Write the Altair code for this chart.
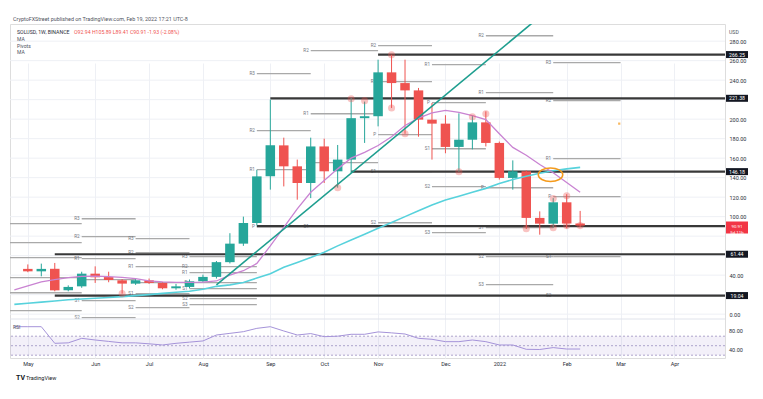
import altair as alt
import pandas as pd

# ---------------- data ----------------
BASE = pd.Timestamp("2021-05-03")  # first weekly bar

def wk(w):
    return (BASE + pd.Timedelta(days=7 * w)).strftime("%Y-%m-%dT%H:%M:%SZ")

opens = [46.4, 43.9, 46.5, 24.5, 28.5, 41.5, 38.0, 34.7, 31.3, 34.7, 32.0, 26.5, 27.9, 33.7, 38.2,
         53.3, 72.3, 93.5, 141.3, 173.1, 151.6, 134.5, 172.0, 146.5, 158.5, 201.0, 203.0, 248.0,
         237.0, 229.5, 199.5, 195.4, 171.5, 178.9, 196.7, 175.6, 139.7, 146.5, 98.7, 92.8, 114.7, 92.94]
highs = [51, 51.8, 52.5, 29.5, 43.5, 49, 43.5, 36, 36.5, 36.5, 33, 31, 35.5, 40.5, 54.5,
         83, 100, 148, 220, 181, 158.5, 181, 180, 173.5, 221.7, 218, 261, 266,
         261, 232, 216.6, 204, 206, 204, 208, 177, 157.7, 147.5, 105.4, 119, 123, 105.89]
lows = [43, 38.8, 23.4, 23.4, 27, 32, 32.7, 21, 30, 31, 25.5, 25, 26.5, 33, 36.5,
        52, 70, 91, 127.7, 131, 117.4, 119, 134.5, 129.7, 144.8, 175.6, 192.6, 211.5,
        185, 182, 158.5, 165, 146, 169, 172, 138, 127.7, 87.4, 81.5, 88.4, 88, 89.41]
closes = [43.9, 46.4, 24.4, 27.9, 41.5, 37.8, 35.0, 31.3, 34.7, 32.0, 26.5, 28.5, 33.7, 38.2, 53.3,
          72.3, 93.5, 141.3, 173.1, 151.6, 134.5, 172.0, 146.5, 158.5, 201.0, 203.0, 248.0, 237.0,
          229.5, 199.5, 195.4, 171.5, 178.9, 196.7, 175.6, 139.7, 146.5, 98.7, 92.8, 114.7, 92.94, 90.91]

# indicator values for weeks -1 .. 41
ma_fast = [25, 29, 33, 35.4, 37.5, 38.8, 39, 38.5, 37.8, 36.5, 34.2, 33, 32.6, 32.5, 32.8,
           34, 40, 44.5, 52, 70, 89, 108, 125, 137, 149, 160, 166, 173, 182, 193.5,
           201, 206.5, 209, 207, 203.5, 199.5, 185, 171, 163, 153.5, 145, 135, 125]
ma_slow = [10, 11.2, 12.3, 13.4, 14.7, 15.5, 16.3, 17, 18, 19, 20, 21.3, 22.5, 23.5, 25.5,
           28.5, 30, 32.5, 37, 41.5, 48, 53, 58, 63.5, 70, 76, 82, 88, 94, 100,
           106, 112, 117, 121, 125, 129, 134, 138, 141.5, 144.5, 147, 149, 150.5]
rsi_vals = [90, 90, 90, 55, 56, 65.5, 62, 59, 56, 56, 54, 51.5, 55, 57.5, 60,
            72.5, 76, 79.5, 86.5, 90, 81, 72.5, 75.5, 69, 70, 74, 74, 79, 77, 74.6,
            65.5, 63.5, 58.5, 58.5, 62, 58.5, 51.5, 51.5, 42.4, 42, 46, 43, 43]

# monthly pivot periods (week index start/end)
period_start = [-2, 4, 8, 12, 17, 21, 26, 30, 34, 39]
period_end = [4, 8, 12, 17, 21, 26, 30, 34, 39, 44]
piv_period = [0, 0, 0, 0, 0, 0,
              1, 1, 1, 1, 1, 1,
              2, 2, 2, 2, 2, 2,
              3, 3, 3, 3, 3, 3, 3,
              4, 4, 4, 4,
              5, 5, 5, 5,
              6, 6, 6, 6, 6,
              7, 7, 7, 7, 7,
              8, 8, 8, 8, 8, 8,
              9, 9, 9, 9, 9, 9]
piv_label = ["R3", "R2", "R1", "P", "S1", "S2",
             "R3", "R2", "R1", "P", "S1", "S2",
             "R3", "R2", "R1", "P", "S1", "S2",
             "R3", "R2", "R1", "P", "S1", "S2", "S3",
             "R3", "R2", "R1", "P",
             "R2", "R1", "P", "S1",
             "R2", "R1", "P", "S1", "S2",
             "R1", "P", "S1", "S2", "S3",
             "R2", "R1", "P", "S1", "S2", "S3",
             "R3", "R2", "R1", "P", "S1", "S2"]
piv_price = [92.8, 73.3, 58.0, 37.4, 22.0, 3.6,
             97.9, 79.5, 56.9, 35.4, 13.8, -3.6,
             77.4, 63.0, 48.7, 32.3, 21.0, 6.7,
             59.0, 48.7, 42.6, 32.3, 26.2, 15.9, 9.7,
             246.7, 188.2, 148.2, 89.7,
             270.3, 205.6, 155.4, 89.7,
             275.4, 238.5, 184.1, 146.2, 93.8,
             255.9, 216.9, 169.7, 130.8, 83.6,
             285.6, 227.2, 129.7, 88.7, 59.0, 30.3,
             258.0, 219.0, 159.5, 120.5, 59.0, 19.0]

level_price = [266.25, 221.38, 146.18, 90.23, 61.44, 19.04]
level_start = [26, 18, 24, 17, 2, 2]
level_text = ["266.25", "221.38", "146.18", "90.23", "61.44", "19.04"]

circle_week = [7, 23, 24, 25, 27, 27, 28, 32, 33, 34, 37, 39, 39, 40, 40, 41]
circle_price = [21, 129.7, 221, 219, 266, 211.5, 185, 146, 202.5, 205.6, 87.7, 118.5, 88.7, 121.5, 90.8, 90.8]

trend_week = [14, 38]
trend_price = [30, 305]

month_ticks = [(2021, 5, 3), (2021, 6, 7), (2021, 7, 5), (2021, 8, 2), (2021, 9, 6), (2021, 10, 4),
               (2021, 11, 1), (2021, 12, 6), (2022, 1, 3), (2022, 2, 7), (2022, 3, 7), (2022, 4, 4)]
price_ticks = [0, 40, 100, 120, 140, 160, 180, 200, 240, 260, 280]
grid_prices = list(range(0, 300, 20))
rsi_ticks = [80, 40]

# ---------------- frames ----------------
candles = pd.DataFrame({
    "date": [wk(i) for i in range(len(opens))],
    "open": opens, "high": highs, "low": lows, "close": closes,
})
candles["dir"] = ["up" if c >= o else "down" for o, c in zip(opens, closes)]

ind = pd.DataFrame({"date": [wk(i) for i in range(-1, len(ma_fast) - 1)],
                    "fast": ma_fast, "slow": ma_slow, "rsi": rsi_vals})
piv = pd.DataFrame({
    "start": [wk(period_start[p]) for p in piv_period],
    "end": [wk(period_end[p]) for p in piv_period],
    "label": [l if p > 0 else "" for l, p in zip(piv_label, piv_period)],
    "price": piv_price,
})
levels = pd.DataFrame({"start": [wk(w) for w in level_start], "end": wk(60),
                       "price": level_price, "text": level_text,
                       "off": [0, 0, 0, 13, 0, 0]})
circles = pd.DataFrame({"date": [wk(w) for w in circle_week], "price": circle_price})
trend = pd.DataFrame({"date": [wk(w) for w in trend_week], "price": trend_price})
ellipse = pd.DataFrame({"date": [wk(38.8)], "price": [143]})
odot = pd.DataFrame({"date": [wk(43.9)], "price": [195.4]})
last = pd.DataFrame({"price": [90.91], "t": ["90.91\n5d 11h"]})
grid_df = pd.DataFrame({"price": grid_prices})

FONT = "Roboto"
W, H = 715, 334
MAIN_BOTTOM = 295  # pixel row where the price pane ends and the RSI pane begins

xdom = [alt.DateTime(year=2021, month=4, date=26, hours=8, utc=True),
        alt.DateTime(year=2022, month=4, date=27, hours=16, utc=True)]
xscale = alt.Scale(type="utc", domain=xdom)
tick_vals = [alt.DateTime(year=y, month=m, date=d, utc=True) for y, m, d in month_ticks]
yscale = alt.Scale(domain=[-5, 297.6], nice=False, zero=False, range=[MAIN_BOTTOM, 0])
rscale = alt.Scale(domain=[24.1, 106.2], nice=False, zero=False, range=[H, MAIN_BOTTOM])
cscale = alt.Scale(domain=["up", "down"], range=["#26a69a", "#ef5350"])

x_axis = alt.Axis(values=tick_vals, grid=True, gridColor="#eef0f5", ticks=False, domain=False,
                  labelFontSize=5.5, labelColor="#2a2e39", labelPadding=3, labelFont=FONT,
                  title=None,
                  labelExpr="utcFormat(datum.value, '%m') == '01' ? utcFormat(datum.value, '%Y') : utcFormat(datum.value, '%b')")
y_main_axis = alt.Axis(orient="right", values=price_ticks, format=".2f", grid=False,
                       ticks=False, domain=False, labelFontSize=5.5,
                       labelColor="#2a2e39", labelPadding=4, title=None, labelFont=FONT)

def X(field):
    return alt.X(field, scale=xscale, axis=x_axis)

def Y(field):
    return alt.Y(field, scale=yscale, axis=None)

def R(field):
    return alt.Y(field, scale=rscale, axis=None)

grid = alt.Chart(grid_df).mark_rule(color="#eef0f5", strokeWidth=1).encode(
    y=alt.Y("price:Q", scale=yscale, axis=y_main_axis))
pivot_lines = alt.Chart(piv).mark_rule(color="#a9a9a9", strokeWidth=1.4, clip=True).encode(
    x=X("start:T"), x2="end:T", y=Y("price:Q"))
pivot_text = alt.Chart(piv).mark_text(align="right", dx=-2, fontSize=4.6, color="#74777f",
                                      font=FONT, clip=True).encode(
    x=X("start:T"), y=Y("price:Q"), text="label:N")
level_lines = alt.Chart(levels).mark_rule(color="#383838", strokeWidth=2.2, clip=True).encode(
    x=X("start:T"), x2="end:T", y=Y("price:Q"))
wicks = alt.Chart(candles).mark_rule(strokeWidth=1).encode(
    x=X("date:T"), y=Y("low:Q"), y2="high:Q",
    color=alt.Color("dir:N", scale=cscale, legend=None))
bodies = alt.Chart(candles).mark_bar(size=9.5).encode(
    x=X("date:T"), y=Y("open:Q"), y2="close:Q",
    color=alt.Color("dir:N", scale=cscale, legend=None))
slow_line = alt.Chart(ind).mark_line(color="#57d2dc", strokeWidth=1.6, clip=True).encode(
    x=X("date:T"), y=Y("slow:Q"))
fast_line = alt.Chart(ind).mark_line(color="#c983d2", strokeWidth=1.3, clip=True).encode(
    x=X("date:T"), y=Y("fast:Q"))
trend_line = alt.Chart(trend).mark_line(color="#1e9e8f", strokeWidth=1.6, clip=True).encode(
    x=X("date:T"), y=Y("price:Q"))
dots = alt.Chart(circles).mark_circle(size=50, color="#ef5350", opacity=0.35).encode(
    x=X("date:T"), y=Y("price:Q"))
ell = alt.Chart(ellipse).mark_point(
    shape="M -1 0 A 1 0.55 0 1 1 1 0 A 1 0.55 0 1 1 -1 0 Z", size=600, filled=False,
    color="#f59a1b", strokeWidth=1.5, opacity=1).encode(x=X("date:T"), y=Y("price:Q"))
od = alt.Chart(odot).mark_point(shape="square", size=5, filled=True, color="#f59a1b").encode(
    x=X("date:T"), y=Y("price:Q"))

boxes = alt.Chart(levels).mark_rule(strokeWidth=7, strokeCap="butt", color="#131722").encode(
    x=alt.value(716), x2=alt.value(738), y=Y("price:Q"), yOffset="off:Q")
box_text = alt.Chart(levels).mark_text(color="white", fontSize=5.2, font=FONT).encode(
    x=alt.value(727), y=Y("price:Q"), yOffset="off:Q", text="text:N")
red_box = alt.Chart(last).mark_rule(strokeWidth=12, strokeCap="butt", color="#f23645").encode(
    x=alt.value(716), x2=alt.value(738), y=Y("price:Q"), yOffset=alt.value(2))
red_text = alt.Chart(last).mark_text(color="white", fontSize=4.4, lineHeight=5.4,
                                     lineBreak="\n", baseline="middle", font=FONT).encode(
    x=alt.value(727), y=Y("price:Q"), yOffset=alt.value(2), text="t:N")

# ---------------- RSI pane ----------------
band_df = pd.DataFrame({"x0": [wk(-3)], "x1": [wk(60)], "lo": [30], "hi": [70]})
rsi_levels = pd.DataFrame({"v": [70, 50, 30]})
pane_sep = pd.DataFrame({"v": [106.2]})
rsi_tick_df = pd.DataFrame({"v": rsi_ticks, "t": [f"{v:.2f}" for v in rsi_ticks]})

band = alt.Chart(band_df).mark_rect(color="#7e57c2", opacity=0.09, clip=True).encode(
    x=X("x0:T"), x2="x1:T", y=R("lo:Q"), y2="hi:Q")
rsi_rules = alt.Chart(rsi_levels).mark_rule(color="#9a8fbf", strokeWidth=0.8,
                                            strokeDash=[2, 2]).encode(y=R("v:Q"))
sep = alt.Chart(pane_sep).mark_rule(color="#e0e3eb", strokeWidth=1).encode(y=R("v:Q"))
rsi_line = alt.Chart(ind).mark_line(color="#a593d9", strokeWidth=1, clip=True).encode(
    x=X("date:T"), y=R("rsi:Q"))
rsi_axis_text = alt.Chart(rsi_tick_df).mark_text(align="left", fontSize=5.5, color="#2a2e39",
                                                 font=FONT).encode(
    x=alt.value(719), y=R("v:Q"), text="t:N")


def label(txt, x, y, color="#50535e", size=5.5, weight="normal", align="left"):
    return alt.Chart(pd.DataFrame({"t": [txt]})).mark_text(
        align=align, baseline="middle", fontSize=size, color=color, font=FONT,
        fontWeight=weight).encode(x=alt.value(x), y=alt.value(y), text="t:N")

texts = [
    label("CryptoFXStreet published on TradingView.com, Feb 19, 2022 17:21 UTC-8", 3, -5, "#50535e", 5.4),
    label("SOLUSD, 1W, BINANCE", 7, 8, "#2a2e39", 5.2),
    label("O92.94  H105.89  L89.41  C90.91  -1.93 (-2.08%)", 64, 8, "#ef5350", 5.2),
    label("MA", 7, 14.5, "#50535e", 5.0),
    label("Pivots", 7, 21.5, "#50535e", 5.0),
    label("MA", 7, 28, "#50535e", 5.0),
    label("USD", 719, 8, "#50535e", 5.2),
    label("RSI", 3, 303, "#50535e", 5),
    label("TV", 6, 354, "#131722", 7, "bold"),
    label("TradingView", 16, 354, "#131722", 5.5),
]

chart = alt.layer(
    grid, pivot_lines, pivot_text, level_lines, wicks, bodies, slow_line, fast_line, trend_line,
    dots, ell, od, boxes, box_text, red_box, red_text,
    band, rsi_rules, sep, rsi_line, rsi_axis_text, *texts,
).resolve_scale(y="independent").properties(
    width=W, height=H,
    autosize=alt.AutoSizeParams(type="none"),
    padding={"left": 2, "top": 16, "right": 30, "bottom": 30},
).configure_view(stroke="#e0e3eb", strokeWidth=1).configure(font=FONT, background="white")

chart.save("out.html", embed_options={"renderer": "svg", "actions": False})
